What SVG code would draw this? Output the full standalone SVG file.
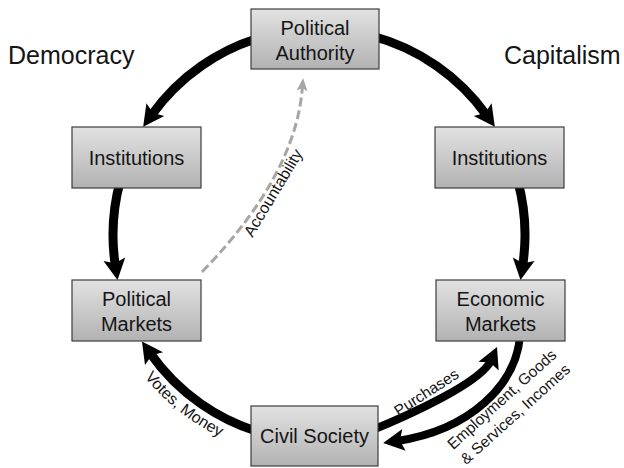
<svg xmlns="http://www.w3.org/2000/svg" width="624" height="468" viewBox="0 0 624 468">
<style>
.box{fill:url(#g);stroke:#3c3c3c;stroke-width:1.2}
.nt{font-family:"Liberation Sans",Arial,sans-serif;font-size:20px;fill:#151515;text-anchor:middle}
.hd{font-family:"Liberation Sans",Arial,sans-serif;font-size:25px;fill:#151515}
.lb{font-family:"Liberation Sans",Arial,sans-serif;font-size:15.5px;fill:#151515;text-anchor:middle}
.arc{fill:none;stroke:#000;stroke-width:9;marker-end:url(#ah)}
.arc2{fill:none;stroke:#000;stroke-width:8;marker-end:url(#ah)}
.dash{fill:none;stroke:#a6a6a6;stroke-width:3;stroke-dasharray:9 4;marker-end:url(#ag)}
</style>
<defs>
<linearGradient id="g" x1="0" y1="0" x2="0" y2="1">
<stop offset="0" stop-color="#e2e2e2"/>
<stop offset="1" stop-color="#b2b2b2"/>
</linearGradient>
<marker id="ah" markerUnits="userSpaceOnUse" viewBox="-10 -15 30 30" markerWidth="30" markerHeight="30" refX="0" refY="0" orient="auto">
<path d="M14,0 L-7,-11 L-3,0 L-7,11 Z" fill="#000"/>
</marker>
<marker id="ag" markerUnits="userSpaceOnUse" viewBox="-6 -8 18 16" markerWidth="18" markerHeight="16" refX="0" refY="0" orient="auto">
<path d="M9,0 L-4,-5.5 L-1,0 L-4,5.5 Z" fill="#a6a6a6"/>
</marker>
<path id="vm" d="M98.5,279.9 A225,225 0 0 0 324.9,459.9"/>
</defs>
<g id="connectors">
<path class="arc" d="M265.7,36 A206,206 0 0 0 151.3,115.4"/>
<path class="arc" d="M120.5,180 A206,206 0 0 0 115.4,266.2"/>
<path class="arc" d="M265.7,434 A206,206 0 0 1 150,352.9"/>
<path class="arc" d="M372.3,36 A206,206 0 0 1 486.7,115.4"/>
<path class="arc" d="M517.5,180 A206,206 0 0 1 522.6,266.2"/>
<path class="arc2" d="M520,336 C516,385 470,430 397,441"/>
<path class="arc2" d="M370,431 C407,416 481.4,382.7 491.4,359.8"/>
<path class="dash" d="M202,272 Q296,175 302.4,87"/>
<text class="lb" transform="translate(277.8,195.6) rotate(-59)" style="font-size:16px">Accountability</text>
<text class="lb" style="font-size:16px"><textPath href="#vm" startOffset="50%">Votes, Money</textPath></text>
<text class="lb" transform="translate(429.2,396.7) rotate(-33)">Purchases</text>
<g transform="translate(502,399.5) rotate(-42)">
<text class="lb" x="0" y="5">Employment, Goods</text>
<text class="lb" x="0" y="25">&amp; Services, Incomes</text>
</g>
</g>
<text class="hd" x="8" y="64">Democracy</text>
<text class="hd" x="504" y="64">Capitalism</text>
<g id="political-authority">
<rect class="box" x="251" y="9" width="128" height="60"/>
<text class="nt" x="315" y="35">Political</text>
<text class="nt" x="315" y="60">Authority</text>
</g>
<g id="institutions-left">
<rect class="box" x="72" y="127" width="129" height="61"/>
<text class="nt" x="136.5" y="165">Institutions</text>
</g>
<g id="political-markets">
<rect class="box" x="72" y="280" width="129" height="61"/>
<text class="nt" x="136.5" y="306">Political</text>
<text class="nt" x="136.5" y="331">Markets</text>
</g>
<g id="institutions-right">
<rect class="box" x="435" y="127" width="129" height="61"/>
<text class="nt" x="499.5" y="165">Institutions</text>
</g>
<g id="economic-markets">
<rect class="box" x="436" y="280" width="129" height="61"/>
<text class="nt" x="500.5" y="306">Economic</text>
<text class="nt" x="500.5" y="331">Markets</text>
</g>
<g id="civil-society">
<rect class="box" x="251" y="406" width="127" height="60"/>
<text class="nt" x="314.5" y="443">Civil Society</text>
</g>
</svg>
